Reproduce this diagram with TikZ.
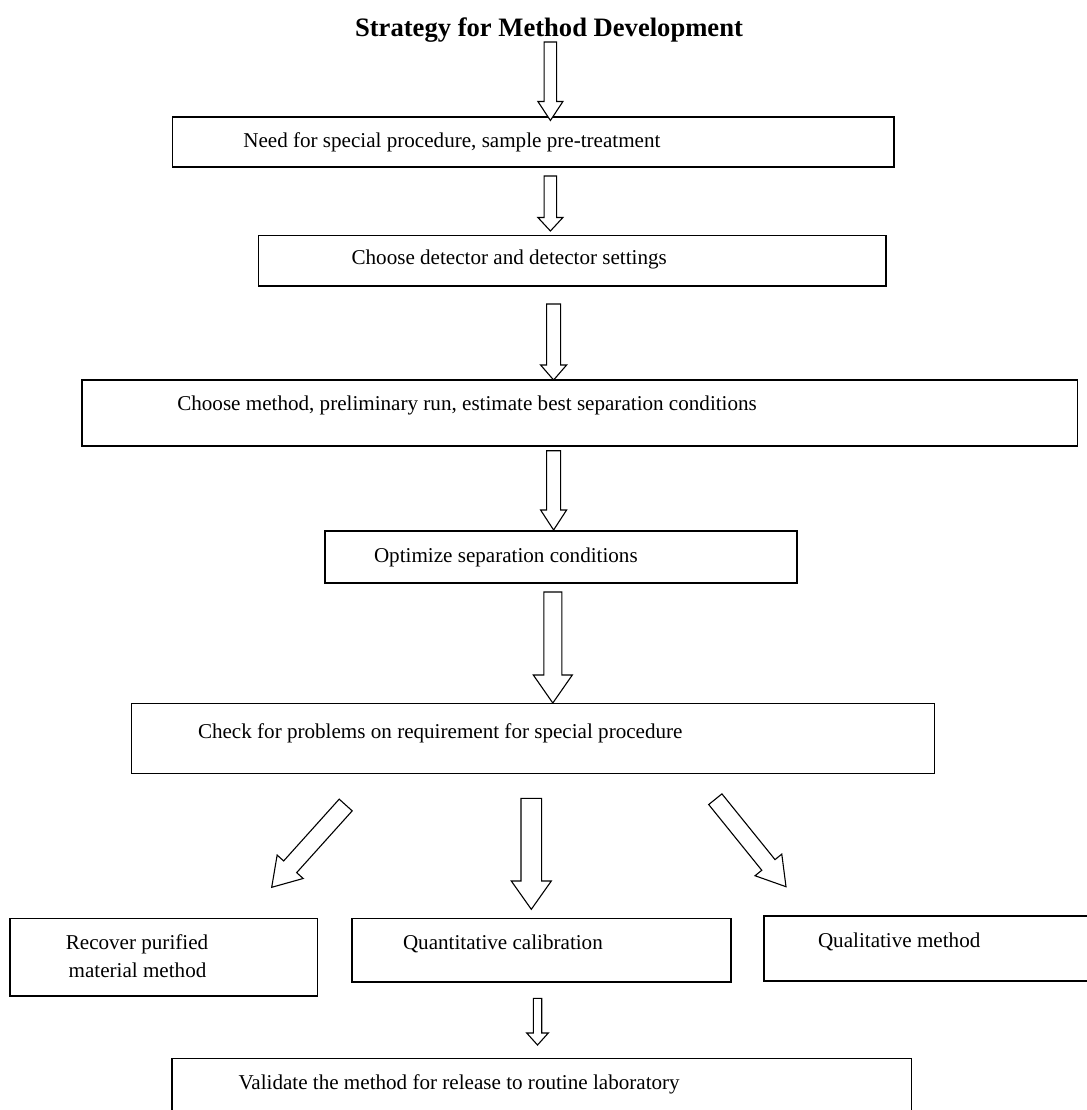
\documentclass[tikz,border=0pt]{standalone}
\usepackage{fontspec}
\setmainfont{Liberation Serif}
\usetikzlibrary{calc}
\newcommand\hollowarrow[5]{%
 \draw[blockarrow] ($(#1)!#3!90:(#2)$) -- ($(#2)!#5!(#1)!#3!-90:(#1)$) -- ($(#2)!#5!(#1)!#4!-90:(#1)$) -- (#2) -- ($(#2)!#5!(#1)!#4!90:(#1)$) -- ($(#2)!#5!(#1)!#3!90:(#1)$) -- ($(#1)!#3!-90:(#2)$) -- cycle;}
\tikzset{
  box/.style={draw=black, line width=1.6pt, rectangle, inner sep=0pt, outer sep=0pt},
  txt/.style={inner sep=0pt, outer sep=0pt, anchor=base west, font=\fontsize{21.1}{27}\selectfont},
  blockarrow/.style={draw=black, fill=white, line width=1.1pt, line join=miter},
}
\begin{document}
\begin{tikzpicture}[x=1pt, y=-1pt]
\fill[white] (0,0) rectangle (1086,1110);
\useasboundingbox (0,0) rectangle (1086,1110);

% title
\node[inner sep=0pt, anchor=base, font=\bfseries\fontsize{26.6}{32}\selectfont] (title) at (549,36.5) {Strategy for Method Development};

% boxes
\node[box, minimum width=721.5pt, minimum height=50pt] (b1) at (533.25,142.3) {};
\node[box, minimum width=627.7pt, minimum height=50.4pt] (b2) at (572.15,260.5) {};
\node[box, minimum width=995.3pt, minimum height=66pt] (b3) at (579.65,413) {};
\node[box, minimum width=472pt, minimum height=52pt] (b4) at (561,557) {};
\node[box, minimum width=802.7pt, minimum height=70pt] (b5) at (532.95,738.3) {};
\node[box, minimum width=307.3pt, minimum height=77.7pt] (rec) at (163.65,957.15) {};
\node[box, minimum width=379pt, minimum height=63.4pt] (quant) at (541.2,950) {};
\node[box, minimum width=328pt, minimum height=65pt] (qual) at (928,948.5) {};
\node[box, minimum width=739.7pt, minimum height=57.7pt] (val) at (541.55,1087.15) {};

% texts
\node[txt] (t1) at (243.3,148) {Need for special procedure, sample pre-treatment};
\node[txt] (t2) at (351.6,264.5) {Choose detector and detector settings};
\node[txt] (t3) at (177.3,410.5) {Choose method, preliminary run, estimate best separation conditions};
\node[txt] (t4) at (374,562) {Optimize separation conditions};
\node[txt] (t5) at (198,738) {Check for problems on requirement for special procedure};
\node[txt, anchor=base] (t6a) at (137,949.5) {Recover purified};
\node[txt, anchor=base] (t6b) at (137.5,977) {material method};
\node[txt] (t7) at (403,949.5) {Quantitative calibration};
\node[txt] (t8) at (818,947.5) {Qualitative method};
\node[txt] (t9) at (238.5,1089) {Validate the method for release to routine laboratory};

% arrow end points
\coordinate (a1s) at (550.4,42);   \coordinate (a1e) at (550.4,120.5);
\coordinate (a2s) at (550.4,176);  \coordinate (a2e) at (550.4,231);
\coordinate (a3s) at (553.6,304);  \coordinate (a3e) at (553.6,380);
\coordinate (a4s) at (553.6,450.7);\coordinate (a4e) at (553.6,530);
\coordinate (a5s) at (552.8,592);  \coordinate (a5e) at (552.8,703);
\coordinate (dls) at (345.7,805);  \coordinate (dle) at (271.7,887.3);
\coordinate (dms) at (531.3,798.3);\coordinate (dme) at (531.3,909.3);
\coordinate (drs) at (715.3,799.2);\coordinate (dre) at (786,886.7);
\coordinate (a6s) at (537.5,998.3);\coordinate (a6e) at (537.5,1045);

% hollow arrows: tail, tip, shaft half width, head half width, head length
\hollowarrow{a1s}{a1e}{6.25pt}{12.5pt}{19pt}
\hollowarrow{a2s}{a2e}{6.25pt}{12.5pt}{13.5pt}
\hollowarrow{a3s}{a3e}{7pt}{13pt}{15pt}
\hollowarrow{a4s}{a4e}{7pt}{13pt}{20pt}
\hollowarrow{a5s}{a5e}{9pt}{19.5pt}{28pt}
\hollowarrow{dls}{dle}{8.75pt}{17.5pt}{27.6pt}
\hollowarrow{dms}{dme}{10.3pt}{20pt}{28.3pt}
\hollowarrow{drs}{dre}{8.5pt}{17.2pt}{28pt}
\hollowarrow{a6s}{a6e}{4.2pt}{10.8pt}{12pt}
\end{tikzpicture}
\end{document}
